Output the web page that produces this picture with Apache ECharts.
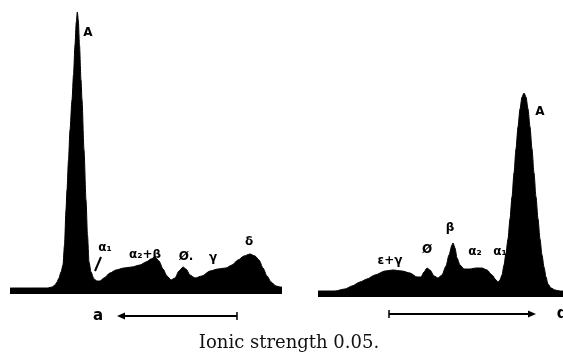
<!DOCTYPE html>
<html>
<head>
<meta charset="utf-8">
<script src="https://cdn.jsdelivr.net/npm/echarts@6/dist/echarts.min.js"></script>
<style>
html,body{margin:0;padding:0;background:#fff;}
#chart{width:563px;height:355px;}
</style>
</head>
<body>
<div id="chart"></div>
<script>
// Left pattern (a): position along strip and trace height (same units both panels)
const leftPos = [0,38,42,45,47,49,51,53,54.5,56,57,58.5,60,62,63.5,65,66.3,67.3,68.3,69.5,71,72,74,76,77.5,79,81,84,87,90,94,100,106,114,122,130,136,141,145,149,153,157,161,165,169,173,176,180,185,192,200,208,216,222,228,234,240,245,249,253,257,261,266,270,272];
const leftHeight = [6,6,7,9,12,16,22,29,49,84,104,134,164,194,219,249,272,282,274,249,214,194,144,94,59,32,22,15,13,13,16,21,24,26,27,29,32,35,37,33,25,18,14,16,23,27,25,19,16,18,23,25,26,29,34,38,40,38,34,26,18,12,8,7,7];
// Right pattern (d)
const rightPos = [0,17,27,34,42,49,57,67,75,84,92,99,103,106,109,112,116,120,124,128,131,134,135,137,139,142,146,152,158,164,169,174,178,180,182,184,186,188,190,192,194,196,198,200,202,204,206,208,210,212,214,216,218,220,222,224,226,228,230,233,237,242,245];
const rightHeight = [6,6,8,11,15,18,22,26,27,26,24,20,20,25,29,27,21,19,22,31,42,52,54,49,39,32,28,28,29,29,27,22,17,15,17,22,32,44,58,78,100,124,148,170,188,200,204,200,188,170,148,124,100,78,58,42,30,20,13,9,7,6,6];

const leftLabels = [
  {text:'A', pos:78, h:261},
  {text:'α₁', pos:95, h:46},
  {text:'α₂+β', pos:135, h:39},
  {text:'Ø.', pos:176, h:37},
  {text:'γ', pos:203, h:36},
  {text:'δ', pos:239, h:52}
];
const rightLabels = [
  {text:'ε+γ', pos:72, h:36},
  {text:'Ø', pos:109, h:47},
  {text:'β', pos:132, h:69},
  {text:'α₂', pos:157, h:45},
  {text:'α₁', pos:182, h:45},
  {text:'A', pos:222, h:185}
];

function pairs(xs, ys){ return xs.map((x,i)=>[x, ys[i]]); }
function marks(list){
  return list.map(l=>({coord:[l.pos, l.h], value:l.text}));
}
const chart = echarts.init(document.getElementById('chart'), null, {renderer:'canvas'});
const labelStyle = {show:true, formatter:p=>p.value, color:'#000', fontSize:12, fontWeight:'bold', fontFamily:'DejaVu Sans', position:'inside'};
chart.setOption({
  animation:false,
  backgroundColor:'#fff',
  grid:[
    {left:10, width:272, top:12, height:282},
    {left:318, width:245, top:15, height:282}
  ],
  xAxis:[
    {type:'value', gridIndex:0, min:0, max:272, show:false},
    {type:'value', gridIndex:1, min:0, max:245, show:false}
  ],
  yAxis:[
    {type:'value', gridIndex:0, min:0, max:282, show:false},
    {type:'value', gridIndex:1, min:0, max:282, show:false}
  ],
  series:[
    {type:'line', xAxisIndex:0, yAxisIndex:0, data:pairs(leftPos,leftHeight), smooth:0.25, smoothMonotone:'x', symbol:'none',
     lineStyle:{color:'#000', width:1}, areaStyle:{color:'#000', opacity:1},
     markPoint:{symbol:'circle', symbolSize:0, label:labelStyle, data:marks(leftLabels)}},
    {type:'line', xAxisIndex:1, yAxisIndex:1, data:pairs(rightPos,rightHeight), smooth:0.25, smoothMonotone:'x', symbol:'none',
     lineStyle:{color:'#000', width:1}, areaStyle:{color:'#000', opacity:1},
     markPoint:{symbol:'circle', symbolSize:0, label:labelStyle, data:marks(rightLabels)}}
  ],
  graphic:[
    // small pointer for alpha1 on left
    {type:'line', shape:{x1:101, y1:257, x2:95, y2:271}, style:{stroke:'#000', lineWidth:2}},
    // bottom direction arrows
    {type:'line', shape:{x1:237, y1:316, x2:122, y2:316}, style:{stroke:'#000', lineWidth:2}},
    {type:'line', shape:{x1:237, y1:312, x2:237, y2:320}, style:{stroke:'#000', lineWidth:1.5}},
    {type:'polygon', shape:{points:[[117,316],[125,312.5],[125,319.5]]}, style:{fill:'#000'}},
    {type:'text', style:{text:'a', x:98, y:316, fill:'#000', font:'bold 15px DejaVu Sans', textAlign:'center', textVerticalAlign:'middle'}},
    {type:'line', shape:{x1:389, y1:314, x2:530, y2:314}, style:{stroke:'#000', lineWidth:2}},
    {type:'line', shape:{x1:389, y1:310, x2:389, y2:318}, style:{stroke:'#000', lineWidth:1.5}},
    {type:'polygon', shape:{points:[[536,314],[528,310.5],[528,317.5]]}, style:{fill:'#000'}},
    {type:'text', style:{text:'d', x:562, y:314, fill:'#000', font:'bold 15px DejaVu Sans', textAlign:'center', textVerticalAlign:'middle'}},
    {type:'text', style:{text:'Ionic strength 0.05.', x:289, y:343, fill:'#111', font:'18px "DejaVu Serif"', textAlign:'center', textVerticalAlign:'middle'}}
  ]
});
</script>
</body>
</html>
